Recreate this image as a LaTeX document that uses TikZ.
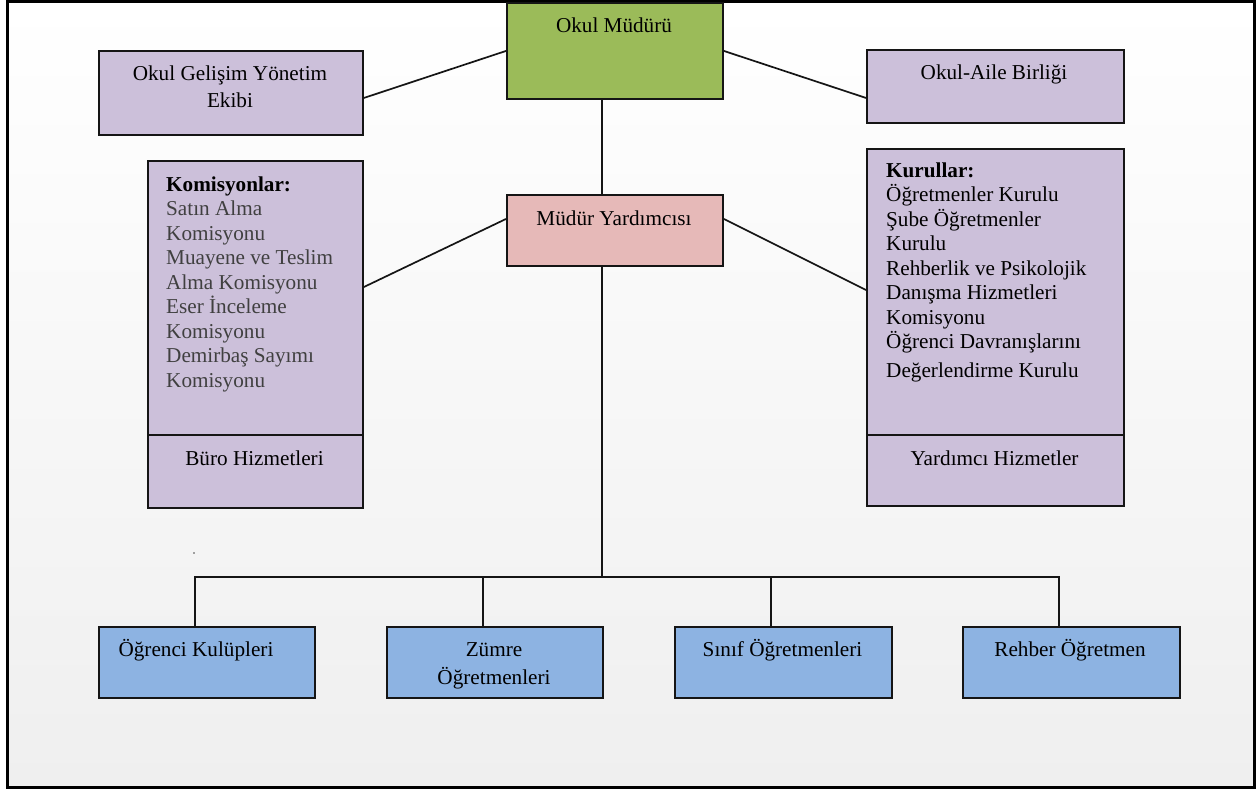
\documentclass[tikz,border=0pt]{standalone}
\usepackage{fontspec}
\setmainfont{Liberation Serif}
\usetikzlibrary{calc}
\definecolor{mgreen}{HTML}{9BBB59}
\definecolor{mpink}{HTML}{E6B9B8}
\definecolor{mlav}{HTML}{CCC0DA}
\definecolor{mblue}{HTML}{8DB3E2}
\definecolor{mline}{HTML}{151515}
\definecolor{mgraytext}{HTML}{404040}
\definecolor{mbgbot}{HTML}{EFEFEF}
\begin{document}
\begin{tikzpicture}[x=1pt,y=-1pt,
  box/.style={draw=mline, line width=1.9pt, inner sep=0pt, anchor=north west},
  txt/.style={font=\fontsize{21.2}{24.5}\selectfont, inner sep=0pt, align=center, text=black},
  lst/.style={font=\fontsize{21.2}{24.5}\selectfont, inner sep=0pt, align=left, anchor=north west},
  conn/.style={draw=mline, line width=1.7pt}]
\useasboundingbox (0,0) rectangle (1258,792);
\fill[white] (0,0) rectangle (1258,792);
% background and frame
\shade[top color=white, bottom color=mbgbot] (7,2) rectangle (1254,787);
\draw[black, line width=3pt] (7,2) rectangle (1254,787);

% boxes
\node[box, fill=mgreen, minimum width=216pt, minimum height=96pt] (mudur) at (506,2) {};
\node[box, fill=mpink, minimum width=216pt, minimum height=71pt] (yard) at (506,194) {};
\node[box, fill=mlav, minimum width=264pt, minimum height=84pt] (oge) at (98,50) {};
\node[box, fill=mlav, minimum width=257pt, minimum height=73pt] (oab) at (866,49) {};
\node[box, fill=mlav, minimum width=215pt, minimum height=274pt] (kom) at (147,160) {};
\node[box, fill=mlav, minimum width=215pt, minimum height=73pt] (buro) at (147,434) {};
\node[box, fill=mlav, minimum width=257pt, minimum height=286pt] (kur) at (866,148) {};
\node[box, fill=mlav, minimum width=257pt, minimum height=71pt] (yh) at (866,434) {};
\node[box, fill=mblue, minimum width=216pt, minimum height=71pt] (b1) at (98,626) {};
\node[box, fill=mblue, minimum width=216pt, minimum height=71pt] (b2) at (386,626) {};
\node[box, fill=mblue, minimum width=217pt, minimum height=71pt] (b3) at (674,626) {};
\node[box, fill=mblue, minimum width=217pt, minimum height=71pt] (b4) at (962,626) {};

% texts
\node[txt, anchor=base] (mudurT) at (614,33) {Okul Müdürü};
\node[txt, anchor=base] (yardT) at (614,225) {Müdür Yardımcısı};
\node[txt, anchor=north] (ogeT) at (230,65.5) {Okul Gelişim Yönetim\\[3pt]Ekibi};
\node[txt, anchor=base] (oabT) at (994,80) {Okul-Aile Birliği};
\node[lst] (komT) at (166,176.5) {\textbf{Komisyonlar:}\\
  \textcolor{mgraytext}{Satın Alma}\\
  \textcolor{mgraytext}{Komisyonu}\\
  \textcolor{mgraytext}{Muayene ve Teslim}\\
  \textcolor{mgraytext}{Alma Komisyonu}\\
  \textcolor{mgraytext}{Eser İnceleme}\\
  \textcolor{mgraytext}{Komisyonu}\\
  \textcolor{mgraytext}{Demirbaş Sayımı}\\
  \textcolor{mgraytext}{Komisyonu}};
\node[lst] (kurT) at (886,162.5) {\textbf{Kurullar:}\\
  Öğretmenler Kurulu\\
  Şube Öğretmenler\\
  Kurulu\\
  Rehberlik ve Psikolojik\\
  Danışma Hizmetleri\\
  Komisyonu\\
  Öğrenci Davranışlarını\\[4pt]
  Değerlendirme Kurulu};
\node[txt, anchor=base] (buroT) at (254.5,465) {Büro Hizmetleri};
\node[txt, anchor=base] (yhT) at (994.5,465) {Yardımcı Hizmetler};
\node[txt, anchor=base] (b1T) at (196,656) {Öğrenci Kulüpleri};
\node[txt, anchor=north] (b2T) at (494,642.5) {Zümre\\[3.5pt]Öğretmenleri};
\node[txt, anchor=base] (b3T) at (782.5,656) {Sınıf Öğretmenleri};
\node[txt, anchor=base] (b4T) at (1070,656) {Rehber Öğretmen};

% connectors
\coordinate (trunk) at (602,577);
\draw[conn] (mudur.west) -- ($(oge.east)+(0,5)$);
\draw[conn] (mudur.east) -- ($(oab.west)+(0,11.5)$);
\draw[conn] ($(yard.west)+(0,-11.5)$) -- ($(kom.north east)+(0,127)$);
\draw[conn] ($(yard.east)+(0,-11.5)$) -- ($(kur.north west)+(0,142)$);
\draw[conn] (mudur.south -| trunk) -- (yard.north -| trunk);
\draw[conn] (yard.south -| trunk) -- (trunk);
\coordinate (d1) at ($(b1.north)+(-12,0)$);
\coordinate (d2) at ($(b2.north)+(-12,0)$);
\coordinate (d3) at ($(b3.north)+(-12.5,0)$);
\coordinate (d4) at ($(b4.north)+(-12.5,0)$);
\coordinate (bus1) at (trunk -| d1);
\coordinate (bus4) at (trunk -| d4);
\draw[conn] (d1) -- (bus1) -- (bus4) -- (d4);
\draw[conn] (d2) -- (trunk -| d2);
\draw[conn] (d3) -- (trunk -| d3);
% stray dot
\fill[black!70] (194,553) circle (0.9pt);
\end{tikzpicture}
\end{document}
